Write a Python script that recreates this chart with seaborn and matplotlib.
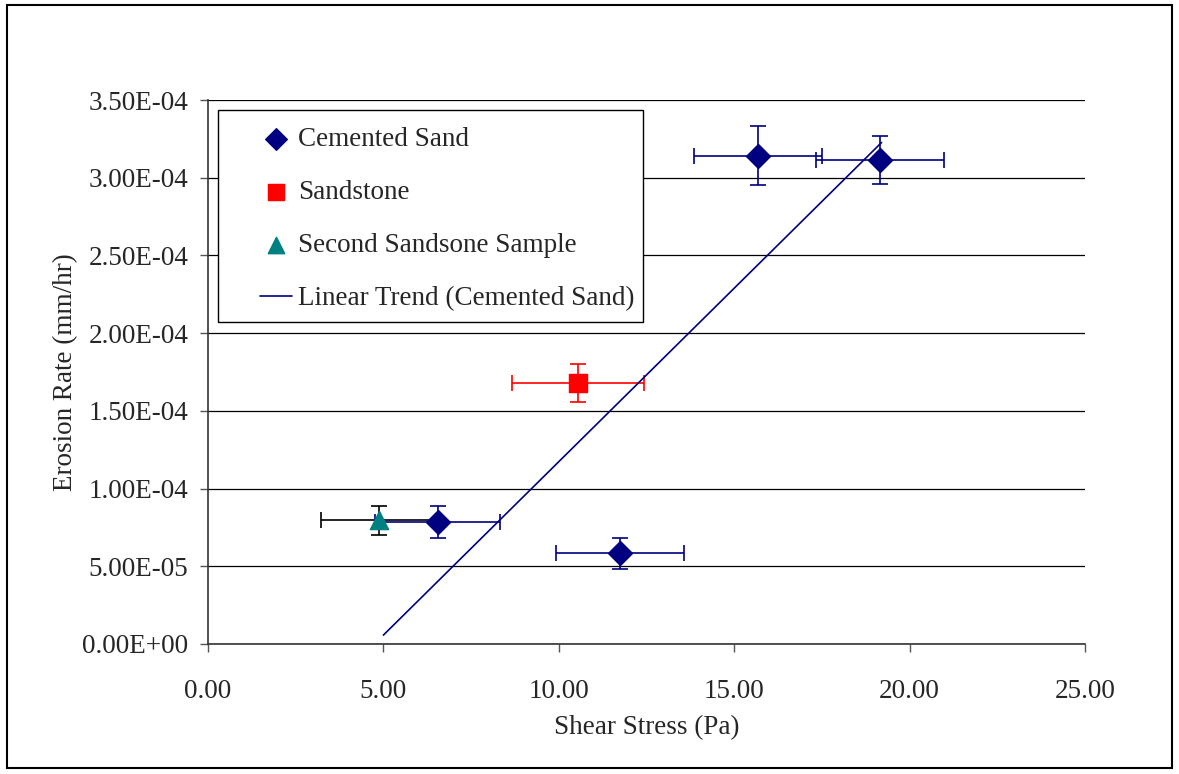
import matplotlib

matplotlib.use("Agg")

import matplotlib.pyplot as plt
import numpy as np
import seaborn as sns
from matplotlib.patches import Rectangle
from matplotlib.ticker import FuncFormatter, MultipleLocator

# Cemented sand
cem_x = [6.55, 11.75, 15.68, 19.16]
cem_y = [7.85e-5, 5.85e-5, 3.14e-4, 3.115e-4]
cem_xerr = [1.78, 1.82, 1.82, 1.82]
cem_yerr = [1.0e-5, 1.0e-5, 1.9e-5, 1.55e-5]

# Sandstone
sand_x = [10.55]
sand_y = [1.68e-4]
sand_xerr = [1.88]
sand_yerr = [1.2e-5]

# Second sandstone sample
second_x = [4.87]
second_y = [7.95e-5]
second_xerr = [1.65]
second_yerr = [9.5e-6]

trend_x_range = [5.0, 19.2]

sns.set_style("white")
plt.rcParams["font.family"] = ["Liberation Serif", "DejaVu Serif"]

FS = 19.5

fig = plt.figure(figsize=(11.79, 7.74), dpi=100)
ax = fig.add_axes([0.1764, 0.168, 0.7439, 0.7028])

# outer chart border
fig.patches.append(Rectangle((0.006, 0.008), 0.988, 0.985, transform=fig.transFigure,
                             fill=False, edgecolor="black", linewidth=1.5))

navy = "#000080"
red = "#FF0000"
teal = "#008080"

# linear trend for cemented sand
slope, intercept = np.polyfit(cem_x, cem_y, 1)
tx = np.array(trend_x_range)
sns.lineplot(x=tx, y=slope * tx + intercept, ax=ax, color=navy, linewidth=1.2,
             label="Linear Trend (Cemented Sand)", zorder=3)

ax.errorbar(second_x, second_y, xerr=second_xerr, yerr=second_yerr, fmt="none",
            ecolor="black", elinewidth=1.2, capsize=6, capthick=1.2, zorder=2)
ax.errorbar(cem_x, cem_y, xerr=cem_xerr, yerr=cem_yerr, fmt="none",
            ecolor=navy, elinewidth=1.2, capsize=6, capthick=1.2, zorder=2)
ax.errorbar(sand_x, sand_y, xerr=sand_xerr, yerr=sand_yerr, fmt="none",
            ecolor=red, elinewidth=1.2, capsize=6, capthick=1.2, zorder=2)

sns.scatterplot(x=cem_x, y=cem_y, ax=ax, marker="D", s=150, color=navy,
                edgecolor=navy, label="Cemented Sand", zorder=4)
sns.scatterplot(x=sand_x, y=sand_y, ax=ax, marker="s", s=170, color=red,
                edgecolor=red, label="Sandstone", zorder=4)
sns.scatterplot(x=second_x, y=second_y, ax=ax, marker="^", s=170, color=teal,
                edgecolor=teal, label="Second Sandsone Sample", zorder=4)

ax.set_xlim(0, 25)
ax.set_ylim(0, 3.5e-4)
ax.xaxis.set_major_locator(MultipleLocator(5))
ax.yaxis.set_major_locator(MultipleLocator(5e-5))
ax.xaxis.set_major_formatter(FuncFormatter(lambda v, p: f"{v:.2f}"))
ax.yaxis.set_major_formatter(FuncFormatter(lambda v, p: f"{v:.2E}"))
ax.yaxis.grid(True, color="black", linewidth=0.9)
ax.set_axisbelow(True)

for side in ["top", "right"]:
    ax.spines[side].set_visible(False)
for side in ["left", "bottom"]:
    ax.spines[side].set_color("#333333")
    ax.spines[side].set_linewidth(1.2)

ax.tick_params(axis="both", direction="out", length=6, width=1, color="#555555",
               labelsize=FS, left=True, bottom=True)
ax.tick_params(axis="x", pad=19)
ax.tick_params(axis="y", pad=8)
ax.set_xlabel("Shear Stress (Pa)", fontsize=FS, labelpad=8.5)
ax.set_ylabel("Erosion Rate (mm/hr)", fontsize=FS, labelpad=3)

# legend frame drawn separately so the inner padding can differ per side
ax.add_patch(Rectangle((0.0114, 0.5919), 0.4846, 0.3897, transform=ax.transAxes,
                       facecolor="white", edgecolor="black", linewidth=1.0,
                       zorder=5))

handles, labels = ax.get_legend_handles_labels()
order = ["Cemented Sand", "Sandstone", "Second Sandsone Sample",
         "Linear Trend (Cemented Sand)"]
hmap = dict(zip(labels, handles))
leg = ax.legend([hmap[k] for k in order], order, loc="upper left",
                bbox_to_anchor=(0.0593, 0.9506), borderaxespad=0, borderpad=0,
                fontsize=FS, frameon=False, labelspacing=1.04,
                handlelength=1.18, handletextpad=0.22, markerscale=0.9)
leg.set_zorder(6)

fig.savefig("out.png", dpi=100)
